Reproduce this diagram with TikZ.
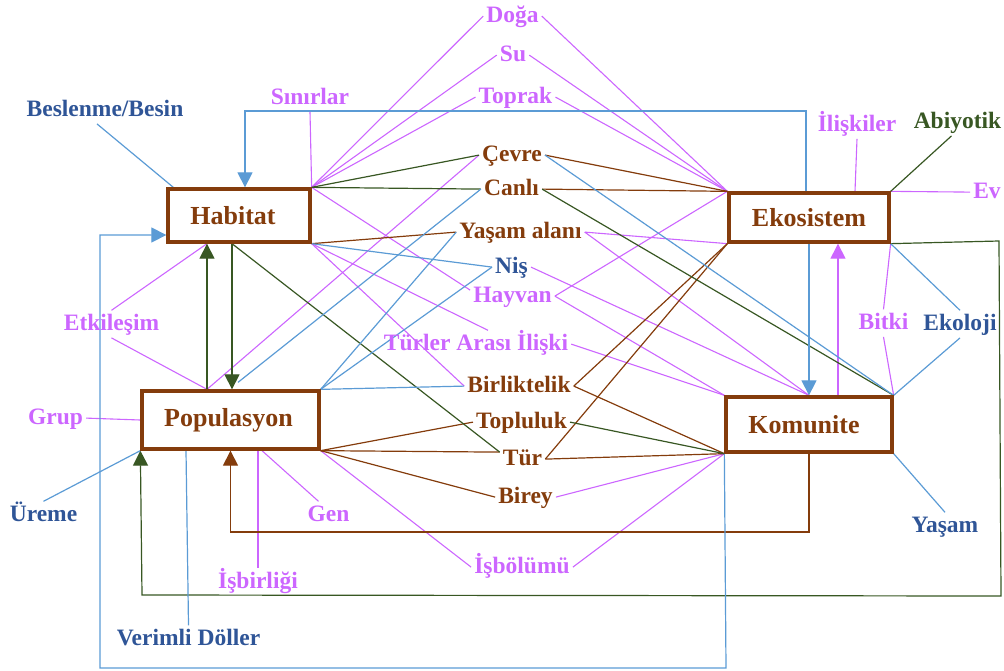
\documentclass[tikz,border=0pt]{standalone}
\usepackage{fontspec}
\setmainfont{Liberation Serif}
\usetikzlibrary{arrows.meta}
\definecolor{brw}{RGB}{132,60,12}
\definecolor{pnk}{RGB}{204,102,255}
\definecolor{nvy}{RGB}{47,85,151}
\definecolor{dgr}{RGB}{56,87,35}
\definecolor{lbl}{RGB}{91,155,213}
\pgfdeclarelayer{bg}
\pgfsetlayers{bg,main}
\tikzset{
 lab/.style={inner xsep=3pt, inner ysep=3pt, text height=16.5pt, text depth=4.7pt, anchor=base, font=\fontsize{23.5}{26}\selectfont\bfseries},
 lpk/.style={lab,text=pnk}, lbr/.style={lab,text=brw}, lnv/.style={lab,text=nvy}, lgr/.style={lab,text=dgr},
 box/.style={draw=brw, line width=3.3pt, fill=white, text=brw, font=\fontsize{26}{30}\selectfont\bfseries, inner sep=0pt},
 cpk/.style={draw=pnk, line width=1.1pt},
 cbr/.style={draw=brw, line width=1.2pt},
 cgr/.style={draw=dgr, line width=1.2pt},
 cbl/.style={draw=lbl, line width=1.2pt},
 arrowtip/.style={-{Triangle[width=15pt,length=15pt]}}
}
\begin{document}
\begin{tikzpicture}[x=1pt,y=-1pt]
\useasboundingbox (0,0) rectangle (1004,670);
% boxes
\node[box, minimum width=142pt, minimum height=53pt] (hab) at (239,215.5) {\kern-12pt Habitat};
\node[box, minimum width=160pt, minimum height=49pt] (eko) at (809,217.5) {Ekosistem};
\node[box, minimum width=177pt, minimum height=58pt] (pop) at (230.5,420) {\kern-4pt Populasyon};
\node[box, minimum width=166pt, minimum height=55pt] (kom) at (809,424.5) {\kern-10pt Komunite};
% labels
\node[lpk] (doga) at (512.5,22) {Doğa};
\node[lpk] (su) at (513,61) {Su};
\node[lpk] (toprak) at (515.5,103) {Toprak};
\node[lpk] (sinir) at (310,104) {Sınırlar};
\node[lnv] (besl) at (105,116) {Beslenme/Besin};
\node[lbr] (cevre) at (512,161) {Çevre};
\node[lbr] (canli) at (511.5,195) {Canlı};
\node[lbr] (yasamalani) at (520.5,238) {Yaşam alanı};
\node[lnv] (nis) at (511.5,273) {Niş};
\node[lpk] (hayvan) at (512.5,302) {Hayvan};
\node[lpk] (turler) at (476,350) {Türler Arası İlişki};
\node[lbr] (birlik) at (519,392) {Birliktelik};
\node[lbr] (topluluk) at (521.5,428) {Topluluk};
\node[lbr] (tur) at (522.5,465) {Tür};
\node[lbr] (birey) at (525.5,503) {Birey};
\node[lpk] (isbolumu) at (522,573) {İşbölümü};
\node[lpk] (gen) at (328.5,521) {Gen};
\node[lpk] (isbirligi) at (258,588) {İşbirliği};
\node[lnv] (verimli) at (188.5,645) {Verimli Döller};
\node[lnv] (ureme) at (43.5,521) {Üreme};
\node[lpk] (grup) at (55.5,424) {Grup};
\node[lpk] (etk) at (111.5,330) {Etkileşim};
\node[lpk] (iliski) at (857,131) {İlişkiler};
\node[lgr] (abiy) at (957.5,128) {Abiyotik};
\node[lpk] (ev) at (987,198) {Ev};
\node[lpk] (bitki) at (883.5,329) {Bitki};
\node[lnv] (ekoloji) at (960,330) {Ekoloji};
\node[lnv] (yasam) at (945,532) {Yaşam};
\begin{pgfonlayer}{bg}
% pink
\draw[cpk] (hab.north east) -- (doga.west);
\draw[cpk] (hab.north east) -- (su.west);
\draw[cpk] (hab.north east) -- (toprak.west);
\draw[cpk] (hab.north east) -- (sinir.south);
\draw[cpk] (hab.north east) -- ([yshift=6pt]hayvan.west);
\draw[cpk] (eko.north west) -- (doga.east);
\draw[cpk] (eko.north west) -- (su.east);
\draw[cpk] (eko.north west) -- (toprak.east);
\draw[cpk] (eko.north west) -- (hayvan.east);
\draw[cpk] (eko.south west) -- (yasamalani.east);
\draw[cpk] (hab.south east) -- ([xshift=12pt]turler.north);
\draw[cpk] (hab.south east) -- (birlik.west);
\draw[cpk] ([xshift=-23.5pt]pop.north) -- (cevre.west);
\draw[cpk] ([xshift=-23.5pt]pop.north) -- (etk.south);
\draw[cpk] ([xshift=-32pt]hab.south) -- (etk.north);
\draw[cpk] (pop.west) -- (grup.east);
\draw[cpk] ([xshift=31.5pt]pop.south) -- ([xshift=-10pt]gen.north);
\draw[cpk] ([xshift=27.5pt]pop.south) -- (isbirligi.north);
\draw[cpk] (pop.south east) -- (isbolumu.west);
\draw[cpk] (isbolumu.east) -- (kom.south west);
\draw[cpk] (birey.east) -- (kom.south west);
\draw[cpk] (yasamalani.east) -- (kom.north);
\draw[cpk] (nis.east) -- (kom.north);
\draw[cpk] (hayvan.east) -- (kom.north west);
\draw[cpk] (turler.east) -- (kom.north west);
\draw[cpk] ([xshift=46pt]eko.north) -- (iliski.south);
\draw[cpk] (eko.north east) -- (ev.west);
\draw[cpk] (eko.south east) -- (bitki.north);
\draw[cpk] (bitki.south) -- (kom.north east);
\draw[cpk,arrowtip] ([xshift=29pt]kom.north) -- ([xshift=29pt]eko.south);
% brown
\draw[cbr] (hab.south east) -- (yasamalani.west);
\draw[cbr] (eko.north west) -- (cevre.east);
\draw[cbr] (eko.north west) -- (canli.east);
\draw[cbr] (eko.south west) -- (birlik.east);
\draw[cbr] (eko.south west) -- (tur.east);
\draw[cbr] (pop.south east) -- (topluluk.west);
\draw[cbr] (pop.south east) -- ([yshift=7pt]tur.west);
\draw[cbr] (pop.south east) -- (birey.west);
\draw[cbr] (birlik.east) -- (kom.south west);
\draw[cbr] (tur.east) -- (kom.south west);
\draw[cbr,arrowtip] (kom.south) -- (809,532) -- (230.5,532) -- (pop.south);
% green
\draw[cgr] (hab.north east) -- (cevre.west);
\draw[cgr] (hab.north east) -- (canli.west);
\draw[cgr] (canli.east) -- (kom.north east);
\draw[cgr] (topluluk.east) -- (kom.south west);
\draw[cgr] ([xshift=-7pt]hab.south) -- ([yshift=7pt]tur.west);
\draw[cgr] ([xshift=-6pt]abiy.south) -- (eko.north east);
\draw[cgr,arrowtip] ([xshift=-23.5pt]pop.north) -- ([xshift=-32pt]hab.south);
\draw[cgr,arrowtip] ([xshift=-7pt]hab.south) -- ([xshift=1.5pt]pop.north);
\draw[cgr,arrowtip] (eko.south east) -- (999,241) -- (1001,596) -- (142,595) -- (pop.south west);
% blue
\draw[cbl] ([xshift=-8pt]besl.south) -- ([xshift=7pt]hab.north west);
\draw[cbl] (hab.south east) -- (nis.west);
\draw[cbl] (pop.north east) -- (yasamalani.west);
\draw[cbl] (pop.north east) -- (nis.west);
\draw[cbl] (pop.north east) -- (birlik.west);
\draw[cbl] (canli.west) -- ([xshift=7.5pt,yshift=7pt]pop.north);
\draw[cbl] (cevre.east) -- (kom.north east);
\draw[cbl] (eko.south east) -- (ekoloji.north);
\draw[cbl] (ekoloji.south) -- (kom.north east);
\draw[cbl] (kom.south east) -- (yasam.north);
\draw[cbl] ([xshift=-44.5pt]pop.south) -- (verimli.north);
\draw[cbl] (pop.south west) -- (ureme.north);
\draw[cbl,arrowtip] (eko.south) -- (kom.north);
\draw[cbl,arrowtip] ([xshift=-3pt]eko.north) -- (806,111) -- (245,111) -- ([xshift=6pt]hab.north);
\draw[cbl,arrowtip] (kom.south west) -- (726,668) -- (100,668) -- (100,235) -- ([yshift=-19.5pt]hab.west);
\end{pgfonlayer}
\end{tikzpicture}
\end{document}
